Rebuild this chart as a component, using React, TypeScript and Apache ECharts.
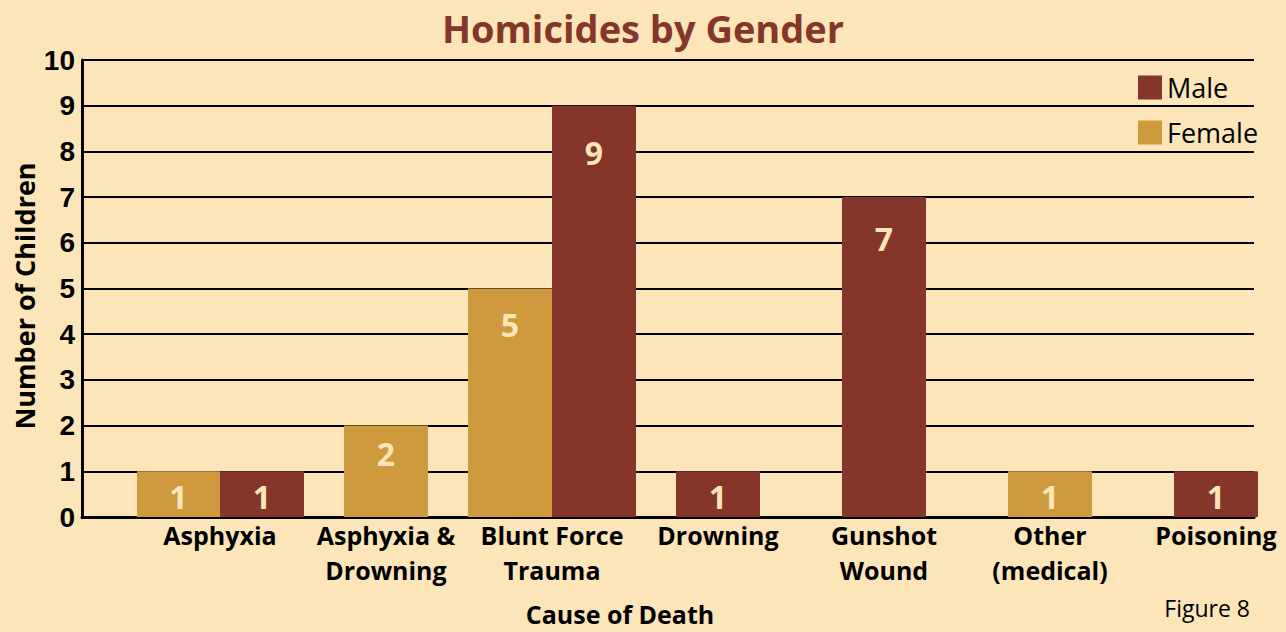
import React, { useEffect, useRef } from "react";
import * as echarts from "echarts";

const categories = [
  "Asphyxia",
  "Asphyxia &\nDrowning",
  "Blunt Force\nTrauma",
  "Drowning",
  "Gunshot\nWound",
  "Other\n(medical)",
  "Poisoning",
];
const female = [1, 2, 5, 0, 0, 1, 0];
const male = [1, 0, 9, 1, 7, 0, 1];
const yTicks = [0, 10, 1]; // min, max, interval

const BG = "#FCE5B9";
const MALE = "#86352B";
const FEMALE = "#CF9A3E";
const LABEL = "#FCE5B9";
const CAT_FONT = "'Open Sans', 'Noto Sans', sans-serif";
const NUM_FONT = "'Liberation Sans Narrow', 'Liberation Sans', Arial, sans-serif";

export default function App() {
  const ref = useRef<HTMLDivElement>(null);
  useEffect(() => {
    if (!ref.current) return;
    const chart = echarts.init(ref.current, null, { renderer: "svg" });
    const paired = categories.map((_, i) => female[i] > 0 && male[i] > 0);
    const pick = (arr: number[], wantPair: boolean) =>
      arr.map((v, i) =>
        v > 0 && paired[i] === wantPair
          ? { value: v, label: { distance: 6 + 2.7 * v } }
          : "-"
      );

    const barLabel = {
      show: true,
      position: "insideTop",
      color: LABEL,
      fontSize: 32,
      fontWeight: "bold",
      fontFamily: CAT_FONT,
    };
    const common = {
      type: "bar",
      yAxisIndex: 1,
      barWidth: 84,
      label: barLabel,
    };

    chart.setOption({
      animation: false,
      backgroundColor: BG,
      title: {
        text: "Homicides by Gender",
        left: "center",
        top: 4,
        textStyle: {
          color: MALE,
          fontSize: 38,
          fontWeight: "bold",
          fontFamily: CAT_FONT,
        },
      },
      legend: {
        orient: "vertical",
        left: 1138,
        top: 74,
        padding: 0,
        itemWidth: 24,
        itemHeight: 24,
        itemGap: 18,
        icon: "rect",
        data: ["Male", "Female"],
        textStyle: {
          fontSize: 27,
          color: "#000",
          fontFamily: CAT_FONT,
          padding: [0, 0, 0, 0],
        },
      },
      grid: [
        { left: 82, right: 32, top: 60, bottom: 115, outerBoundsMode: "none" },
        { left: 137, right: -13, top: 60, bottom: 115, outerBoundsMode: "none" },
      ],
      xAxis: [
        {
          type: "category",
          gridIndex: 0,
          data: [""],
          axisLine: { show: true, lineStyle: { color: "#000", width: 3 } },
          axisTick: { show: false },
          axisLabel: { show: false },
        },
        {
          type: "category",
          gridIndex: 1,
          data: categories,
          axisLine: { show: false },
          axisTick: { show: false },
          axisLabel: {
            interval: 0,
            margin: 0,
            color: "#000",
            fontSize: 25,
            fontWeight: "bold",
            lineHeight: 35,
            fontFamily: CAT_FONT,
          },
        },
        {
          type: "category",
          gridIndex: 1,
          data: categories,
          show: false,
        },
      ],
      yAxis: [
        {
          type: "value",
          gridIndex: 0,
          min: yTicks[0],
          max: yTicks[1],
          interval: yTicks[2],
          axisLine: { show: true, lineStyle: { color: "#000", width: 3 } },
          axisTick: { show: false },
          splitLine: { show: true, lineStyle: { color: "#000", width: 2 } },
          axisLabel: {
            color: "#000",
            fontSize: 28,
            fontWeight: "bold",
            fontFamily: NUM_FONT,
            margin: 7,
          },
        },
        {
          type: "value",
          gridIndex: 1,
          min: yTicks[0],
          max: yTicks[1],
          interval: yTicks[2],
          show: false,
        },
      ],
      graphic: [
        {
          type: "text",
          x: 24,
          y: 296,
          rotation: Math.PI / 2,
          style: {
            text: "Number of Children",
            fontSize: 27,
            fontWeight: "bold",
            fill: "#000",
            fontFamily: CAT_FONT,
            align: "center",
            verticalAlign: "middle",
          },
        },
        {
          type: "text",
          x: 620,
          y: 614,
          style: {
            text: "Cause of Death",
            fontSize: 25,
            fontWeight: "bold",
            fill: "#000",
            fontFamily: CAT_FONT,
            align: "center",
            verticalAlign: "middle",
          },
        },
        {
          type: "text",
          x: 1250,
          y: 608,
          style: {
            text: "Figure 8",
            fontSize: 23,
            fill: "#000",
            fontFamily: CAT_FONT,
            align: "right",
            verticalAlign: "middle",
          },
        },
      ],
      series: [
        {
          ...common,
          name: "Female",
          xAxisIndex: 1,
          barGap: "0%",
          itemStyle: { color: FEMALE },
          data: pick(female, true),
        },
        {
          ...common,
          name: "Male",
          xAxisIndex: 1,
          barGap: "0%",
          itemStyle: { color: MALE },
          data: pick(male, true),
        },
        {
          ...common,
          name: "Female",
          xAxisIndex: 2,
          barGap: "-100%",
          itemStyle: { color: FEMALE },
          data: pick(female, false),
        },
        {
          ...common,
          name: "Male",
          xAxisIndex: 2,
          barGap: "-100%",
          itemStyle: { color: MALE },
          data: pick(male, false),
        },
      ],
    });
    return () => chart.dispose();
  }, []);
  return (
    <div
      ref={ref}
      style={{
        position: "absolute",
        left: 0,
        top: 0,
        width: 1286,
        height: 632,
        background: BG,
      }}
    />
  );
}
